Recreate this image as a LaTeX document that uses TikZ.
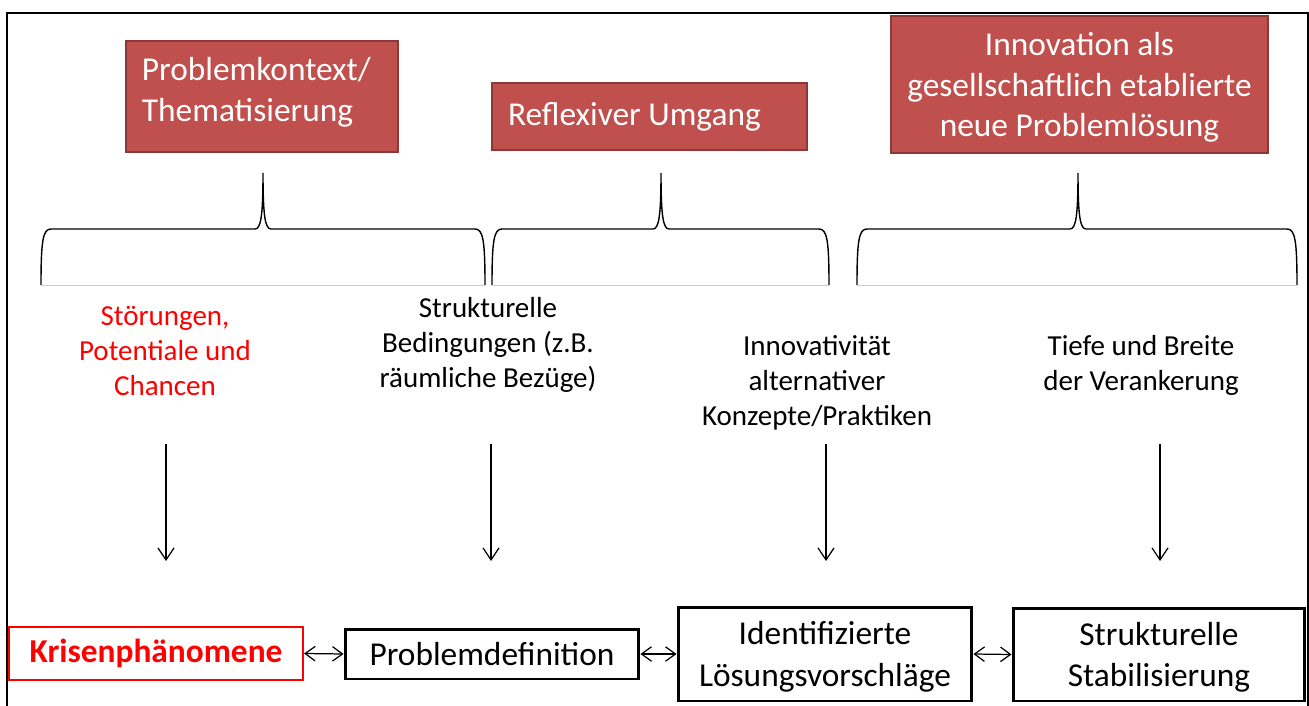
\documentclass[tikz,border=0pt]{standalone}
\usepackage{fontspec}
\setmainfont{Carlito}
\usetikzlibrary{arrows.meta}
\definecolor{boxred}{RGB}{192,80,77}
\definecolor{boxredline}{RGB}{140,56,54}

\begin{document}
\begin{tikzpicture}[
    x=0.02cm, y=-0.02cm,
    txt/.style={font=\fontsize{16.5}{20}\selectfont, align=center, inner sep=0pt},
    topbox/.style={draw=boxredline, fill=boxred, line width=1.1pt, text=white,
      font=\fontsize{19}{23}\selectfont, inner xsep=0.32cm},
    stage/.style={draw, line width=1.7pt, minimum width=5.88cm,
      font=\fontsize{19}{23.5}\selectfont, align=center},
    arr/.style={-{Straight Barb[length=2.4mm, width=3.2mm]}, line width=0.7pt},
    dbl/.style={{Straight Barb[length=2mm, width=2.9mm]}-{Straight Barb[length=2mm, width=2.9mm]}, line width=0.7pt},
    brc/.style={line width=0.8pt},
  ]
    \useasboundingbox (0,0) rectangle (1309,706);

    % outer frame (open at the bottom)
    \draw[line width=1.1pt] (7,706) -- (7,13) -- (1308,13) -- (1308,706);

    % === Top boxes ===
    \node[topbox, anchor=north west, text width=4.8cm, align=flush left,
      inner ysep=0.33cm, text depth=1.1cm] (ctx) at (125,40) {Problemkontext/\\Thematisierung};
    \node[topbox, minimum width=6.3cm, minimum height=1.34cm, text width=5.66cm,
      align=flush left] (refl) at (649.5,116.5) {Reflexiver Umgang};
    \node[topbox, minimum width=7.5cm, minimum height=2.74cm, align=center, text depth=0pt]
      (inno) at (1079.5,84.5) {Innovation als\\gesellschaftlich etablierte\\neue Problemlösung};

    % === Braces ===
    \foreach \xa/\xt/\xb in {41/263/485, 492/661/829, 857/1078/1297} {
      \draw[brc] (\xa,285) .. controls (\xa,240) and (\xa+2,229) .. (\xa+10,229)
        -- (\xt-8,229) .. controls (\xt-2,229) and (\xt,215) .. (\xt,173)
        .. controls (\xt,215) and (\xt+2,229) .. (\xt+8,229)
        -- (\xb-10,229) .. controls (\xb-2,229) and (\xb,240) .. (\xb,285);
      \draw[gray!40, line width=0.4pt] (\xa,285) -- (\xb,285);
    }

    % === Middle texts ===
    \node[txt, text=red, anchor=north] (stoer) at (165,306) {Störungen,\\Potentiale und\\Chancen};
    \node[txt, anchor=north] (bed) at (488,297) {Strukturelle\\Bedingungen (z.B.\\räumliche Bezüge)};
    \node[txt, anchor=north] (innov) at (817,335) {Innovativität\\alternativer\\Konzepte/Praktiken};
    \node[txt, anchor=north] (tiefe) at (1141,335) {Tiefe und Breite\\der Verankerung};

    % down arrows
    \foreach \i/\x in {1/166, 2/491, 3/826, 4/1160} {
      \coordinate (a\i) at (\x,444);
      \coordinate (b\i) at (\x,561);
      \draw[arr] (a\i) -- (b\i);
    }

    % === Bottom row ===
    \node[stage, draw=red, line width=1.3pt, minimum height=1.06cm, text=red,
      font=\fontsize{19}{23.5}\selectfont\bfseries] (kp) at (156,653.5) {Krisenphänomene};
    \node[stage, minimum height=1.0cm] (pd) at (492,654) {Problemdefinition};
    \node[stage, minimum height=1.88cm, text depth=0pt] (lv) at (825,654) {Identifizierte\\Lösungsvorschläge};
    \node[stage, minimum width=5.84cm, minimum height=1.86cm, text depth=0pt] (stab) at (1159,654.5) {Strukturelle\\Stabilisierung};

    \draw[dbl] (kp.east) -- (pd.west);
    \draw[dbl] (pd.east) -- (lv.west);
    \draw[dbl] (lv.east) -- (stab.west);
  \end{tikzpicture}
\end{document}
